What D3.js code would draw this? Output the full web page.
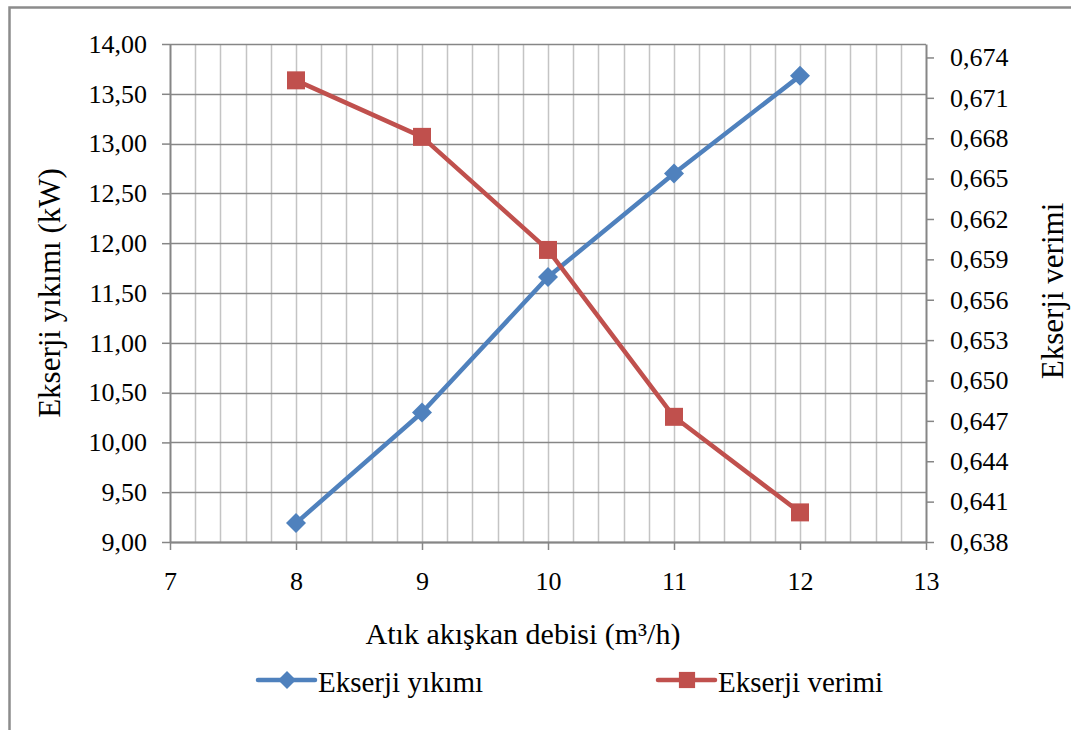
<!DOCTYPE html>
<html>
<head>
<meta charset="utf-8">
<script src="https://cdn.jsdelivr.net/npm/d3@7"></script>
</head>
<body style="margin:0">
<div id="chart"></div>
<script>
// data
var flowRates   = [8, 9, 10, 11, 12];
var destruction = [9.19, 10.30, 11.66, 12.70, 13.68];
var efficiency  = [0.6723, 0.6681, 0.6597, 0.6473, 0.6402];

var xTicks     = [7, 8, 9, 10, 11, 12, 13];
var leftTicks  = [9, 9.5, 10, 10.5, 11, 11.5, 12, 12.5, 13, 13.5, 14];
var rightTicks = [0.638, 0.641, 0.644, 0.647, 0.650, 0.653, 0.656, 0.659, 0.662, 0.665, 0.668, 0.671, 0.674];

var seriesNames = ['Ekserji yıkımı', 'Ekserji verimi'];
var xTitle = 'Atık akışkan debisi (m³/h)';
var leftTitle = 'Ekserji yıkımı (kW)';
var rightTitle = 'Ekserji verimi';

var width = 1071, height = 730;
var margin = {top: 44, right: 145, bottom: 188, left: 170};
var blue = '#4f81bd', red = '#c0504d';
var axisColor = '#868686', minorColor = '#c4c4c4';
var fontFam = "'Liberation Serif'";

var svg = d3.select('#chart').append('svg')
	.attr('width', width)
	.attr('height', height)
	.style('font-family', fontFam);

// outer chart border (right and bottom run off the picture)
svg.append('rect')
	.attr('x', 9.5).attr('y', 7.5)
	.attr('width', width + 20).attr('height', height + 20)
	.attr('fill', 'none')
	.attr('stroke', '#8c8c8c')
	.attr('stroke-width', 2.5);

var x = d3.scaleLinear().domain([7, 13]).range([margin.left, width - margin.right]);
var yL = d3.scaleLinear().domain([9, 14]).range([height - margin.bottom, margin.top]);
var yR = d3.scaleLinear().domain([0.638, 0.675]).range([height - margin.bottom, margin.top]);

var fmt2 = function(d) { return d3.format('.2f')(d).replace('.', ','); };
var fmt3 = function(d) { return d3.format('.3f')(d).replace('.', ','); };

// minor vertical grid every 0.2 between 7 and 13
var minorX = d3.range(1, 30).map(function(i) { return 7 + i * 0.2; });
svg.append('g').selectAll('line')
	.data(minorX)
	.enter().append('line')
	.attr('x1', function(d) { return Math.round(x(d)) + 0.5; })
	.attr('x2', function(d) { return Math.round(x(d)) + 0.5; })
	.attr('y1', margin.top)
	.attr('y2', height - margin.bottom)
	.attr('stroke', minorColor)
	.attr('stroke-width', 1.5);

// major horizontal grid
svg.append('g').selectAll('line')
	.data(leftTicks)
	.enter().append('line')
	.attr('x1', margin.left)
	.attr('x2', width - margin.right)
	.attr('y1', function(d) { return Math.round(yL(d)) + 0.5; })
	.attr('y2', function(d) { return Math.round(yL(d)) + 0.5; })
	.attr('stroke', axisColor)
	.attr('stroke-width', 1.5);

// axes
function styleAxis(g) {
	g.attr('font-family', null).attr('font-size', null);
	g.select('.domain').attr('stroke', axisColor).attr('stroke-width', 2);
	g.selectAll('.tick line').attr('stroke', axisColor).attr('stroke-width', 1.5);
	g.selectAll('.tick text')
		.attr('fill', '#000')
		.style('font-family', fontFam)
		.style('font-size', '26px');
}

svg.append('g')
	.attr('transform', 'translate(0,' + (height - margin.bottom) + ')')
	.call(d3.axisBottom(x).tickValues(xTicks).tickFormat(d3.format('d')).tickSize(8).tickSizeOuter(0).tickPadding(22))
	.call(styleAxis);

svg.append('g')
	.attr('transform', 'translate(' + margin.left + ',0)')
	.call(d3.axisLeft(yL).tickValues(leftTicks).tickFormat(fmt2).tickSize(8).tickSizeOuter(0).tickPadding(15))
	.call(styleAxis);

svg.append('g')
	.attr('transform', 'translate(' + (width - margin.right) + ',0)')
	.call(d3.axisRight(yR).tickValues(rightTicks).tickFormat(fmt3).tickSize(8).tickSizeOuter(0).tickPadding(16))
	.call(styleAxis);

// axis titles
svg.append('text')
	.attr('x', 523).attr('y', 644)
	.attr('text-anchor', 'middle')
	.style('font-family', fontFam)
	.style('font-size', '30px')
	.text(xTitle);

svg.append('text')
	.attr('transform', 'translate(60,293) rotate(-90)')
	.attr('text-anchor', 'middle')
	.style('font-family', fontFam)
	.style('font-size', '31px')
	.text(leftTitle);

svg.append('text')
	.attr('transform', 'translate(1063,291) rotate(-90)')
	.attr('text-anchor', 'middle')
	.style('font-family', fontFam)
	.style('font-size', '31px')
	.text(rightTitle);

// series
var lineL = d3.line()
	.x(function(d, i) { return x(flowRates[i]); })
	.y(function(d) { return yL(d); });
var lineR = d3.line()
	.x(function(d, i) { return x(flowRates[i]); })
	.y(function(d) { return yR(d); });

svg.append('path')
	.attr('d', lineL(destruction))
	.attr('fill', 'none').attr('stroke', blue).attr('stroke-width', 4.5)
	.attr('stroke-linejoin', 'round');
svg.append('path')
	.attr('d', lineR(efficiency))
	.attr('fill', 'none').attr('stroke', red).attr('stroke-width', 4.5)
	.attr('stroke-linejoin', 'round');

var diamond = 'M0,-10L10,0L0,10L-10,0Z';
var square  = 'M-9,-9H9V9H-9Z';

svg.append('g').selectAll('path')
	.data(destruction)
	.enter().append('path')
	.attr('d', diamond)
	.attr('transform', function(d, i) { return 'translate(' + x(flowRates[i]) + ',' + yL(d) + ')'; })
	.attr('fill', blue);

svg.append('g').selectAll('path')
	.data(efficiency)
	.enter().append('path')
	.attr('d', square)
	.attr('transform', function(d, i) { return 'translate(' + x(flowRates[i]) + ',' + yR(d) + ')'; })
	.attr('fill', red);

// legend
var legend = [
	{name: seriesNames[0], color: blue, marker: diamond, x: 258},
	{name: seriesNames[1], color: red,  marker: square,  x: 658}
];
var item = svg.append('g').selectAll('g')
	.data(legend)
	.enter().append('g')
	.attr('transform', function(d) { return 'translate(' + d.x + ',680)'; });
item.append('line')
	.attr('x1', 0).attr('x2', 57)
	.attr('stroke', function(d) { return d.color; })
	.attr('stroke-width', 4.5)
	.attr('stroke-linecap', 'round');
item.append('path')
	.attr('d', function(d) { return d.marker; })
	.attr('transform', 'translate(29,0) scale(0.9)')
	.attr('fill', function(d) { return d.color; });
item.append('text')
	.attr('x', 60).attr('y', 12)
	.style('font-family', fontFam)
	.style('font-size', '29px')
	.text(function(d) { return d.name; });
</script>
</body>
</html>
